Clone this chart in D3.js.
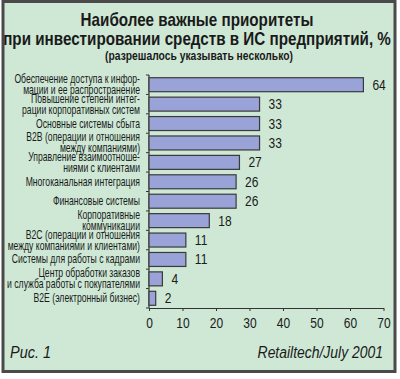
<!DOCTYPE html>
<html>
<head>
<meta charset="utf-8">
<script src="https://cdn.jsdelivr.net/npm/d3@7"></script>
<style>
  body { margin: 0; background: #ffffff; }
</style>
</head>
<body>
<div id="chart-area"></div>
<script>
//============================DATA============================
// category labels (one array of lines per bar)
var categories = [
    ["Обеспечение доступа к инфор-", "мации и ее распространение"],
    ["Повышение степени интег-", "рации корпоративных систем"],
    ["Основные системы сбыта"],
    ["B2B (операции и отношения", "между компаниями)"],
    ["Управление взаимоотноше-", "ниями с клиентами"],
    ["Многоканальная интеграция"],
    ["Финансовые системы"],
    ["Корпоративные", "коммуникации"],
    ["B2C (операции и отношения", "между компаниями и клиентами)"],
    ["Системы для работы с кадрами"],
    ["Центр обработки заказов", "и служба работы с покупателями"],
    ["B2E (электронный бизнес)"]
];
var values = [64, 33, 33, 33, 27, 26, 26, 18, 11, 11, 4, 2];
var xTicks = [0, 10, 20, 30, 40, 50, 60, 70];
var titleLines = ["Наиболее важные приоритеты", "при инвестировании средств в ИС предприятий, %"];
var subtitle = "(разрешалось указывать несколько)";
var figLabel = "Рис. 1";
var sourceLabel = "Retailtech/July 2001";

//============================GLOBALS============================
var W = 400, H = 379;
var margins = { left: 149, right: 16.5, top: 75, bottom: 71 };
var width = W - margins.left - margins.right;
var height = H - margins.top - margins.bottom;

// no condensed font installed -> squeeze Liberation Sans horizontally
var font = "'Liberation Sans', Arial, sans-serif";
var squeeze = 0.8;

var svg = d3.select("#chart-area")
    .append("svg")
    .attr("width", W)
    .attr("height", H);

// helper: condensed text placed at (x, y)
function narrowText(parent, x, y, str, sx) {
    return parent.append("text")
        .attr("transform", "translate(" + x + "," + y + ") scale(" + (sx || squeeze) + ",1)")
        .attr("font-family", font)
        .attr("fill", "#1a1a1a")
        .text(str);
}

// panel background + frame
svg.append("rect")
    .attr("x", 3).attr("y", 1.5)
    .attr("width", 392).attr("height", 370)
    .attr("fill", "#cee8d5")
    .attr("stroke", "#4a4a4a")
    .attr("stroke-width", 3);

// Title
titleLines.forEach(function(t, i){
    narrowText(svg, 197, 26 + i * 19, t, 0.845)
        .attr("text-anchor", "middle")
        .attr("font-weight", "bold")
        .attr("font-size", "18px");
});

narrowText(svg, 199, 60, subtitle, 0.86)
    .attr("text-anchor", "middle")
    .attr("font-weight", "bold")
    .attr("font-size", "12px");

var g = svg.append("g")
    .attr("transform", "translate(" + margins.left + ", " + margins.top + ")");

//============================SCALES============================
var y = d3.scaleBand()
    .domain(d3.range(values.length))
    .range([0, height])
    .paddingInner(0.28)
    .paddingOuter(0.14);

var x = d3.scaleLinear()
    .domain([0, 70])
    .range([0, width]);

//============================AXES============================
var xAxisCall = d3.axisBottom(x)
    .tickValues(xTicks)
    .tickSize(3)
    .tickPadding(6)
    .tickSizeOuter(0);
var xAxis = g.append("g")
    .attr("class", "x axis")
    .attr("transform", "translate(0, " + height + ")")
    .call(xAxisCall);
xAxis.select("path").attr("stroke", "#333").attr("stroke-width", 1.2);
xAxis.selectAll("line").attr("stroke", "#333");
xAxis.selectAll("text")
    .attr("font-family", font)
    .attr("font-size", "15px")
    .attr("fill", "#1a1a1a")
    .attr("transform", "scale(" + squeeze + ",1)");

// y axis: plain line with small ticks between bands
g.append("line")
    .attr("x1", 0).attr("x2", 0)
    .attr("y1", 0).attr("y2", height)
    .attr("stroke", "#333")
    .attr("stroke-width", 1.2);
g.selectAll(".ytick")
    .data(d3.range(values.length + 1))
    .enter()
    .append("line")
    .attr("class", "ytick")
    .attr("x1", -3).attr("x2", 0)
    .attr("y1", function(i){ return i * y.step(); })
    .attr("y2", function(i){ return i * y.step(); })
    .attr("stroke", "#333");

//============================BARS============================
g.selectAll("rect.bar")
    .data(values)
    .enter()
    .append("rect")
    .attr("class", "bar")
    .attr("x", x(0))
    .attr("y", function(d, i){ return y(i); })
    .attr("width", function(d){ return x(d) - x(0); })
    .attr("height", y.bandwidth())
    .attr("fill", "#9aa3d7")
    .attr("stroke", "#3a3a3a")
    .attr("stroke-width", 1.2);

// value labels
values.forEach(function(v, i){
    narrowText(g, x(v) + 9, y(i) + y.bandwidth() / 2 + 5, v)
        .attr("font-size", "15px");
});

// category labels (right aligned, multi-line)
categories.forEach(function(lines, i){
    var cy = y(i) + y.bandwidth() / 2;
    var top = cy + 4 - (lines.length - 1) * 5.5;
    lines.forEach(function(line, j){
        narrowText(g, -9, top + j * 11, line, 0.72)
            .attr("text-anchor", "end")
            .attr("font-size", "12px");
    });
});

//============================FOOTER============================
narrowText(svg, 10, 358, figLabel, 0.85)
    .attr("font-style", "italic")
    .attr("font-size", "17px");

narrowText(svg, 383, 358, sourceLabel, 0.82)
    .attr("text-anchor", "end")
    .attr("font-style", "italic")
    .attr("font-size", "17px");
</script>
</body>
</html>
